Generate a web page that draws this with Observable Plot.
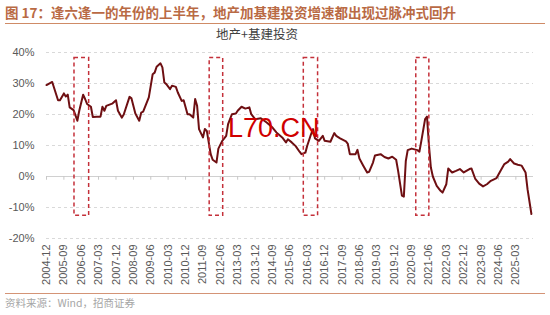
<!DOCTYPE html>
<html><head><meta charset="utf-8">
<script src="https://cdn.jsdelivr.net/npm/d3@7"></script>
<script src="https://cdn.jsdelivr.net/npm/@observablehq/plot@0.6"></script>
<style>
body{margin:0;background:#fff;}
#wrap{position:relative;width:550px;height:315px;overflow:hidden;background:#fff;font-family:"Liberation Sans",Arial,sans-serif;}
#title{position:absolute;left:5px;top:3px;font-family:"Noto Sans CJK SC";font-size:13.5px;font-weight:bold;color:#b96a44;white-space:nowrap;line-height:18px;}
#rule1{position:absolute;left:5px;top:23px;width:540px;border-top:1.5px solid #cf8b66;}
#sub{position:absolute;left:0;width:514px;text-align:center;top:26px;font-family:"Noto Sans CJK SC";font-size:12.5px;color:#404040;line-height:16px;}
#chart{position:absolute;left:0;top:36px;}
#rule2{position:absolute;left:5px;top:293px;width:540px;border-top:1px solid #d49476;}
#foot{position:absolute;left:5px;top:296px;font-family:"Noto Sans CJK SC";font-size:10.5px;color:#a6a6a6;line-height:14px;}
#wm{position:absolute;left:228px;top:114.5px;font-family:"Liberation Sans",Arial,sans-serif;font-size:27px;line-height:27px;color:#d00000;}
</style></head>
<body>
<div id="wrap">
  <div id="title">图 17：逢六逢一的年份的上半年，地产加基建投资增速都出现过脉冲式回升</div>
  <div id="rule1"></div>
  <div id="sub">地产+基建投资</div>
  <div id="chart"></div>
  <div id="rule2"></div>
  <div id="foot">资料来源：Wind，招商证券</div>
  <div id="wm">L70.CN</div>
</div>
<script>
// months after 2004-12
const months = [0,3,6,7,9,10,11,12,14,16,17,19,20,21,23,24,26,28,29,30,31,34,36,37,39,40,43,44,46,48,49,50,53,55,56,57,59,60,61,62,64,65,67,68,70,71,73,74,76,77,78,79,81,82,83,85,86,88,89,91,93,94,96,98,99,101,103,105,106,108,111,114,117,119,122,124,125,127,129,131,132,134,135,137,138,139,141,143,144,147,149,150,152,155,156,157,160,161,162,164,166,167,169,170,173,175,177,179,181,182,184,185,186,187,189,192,193,194,196,197,198,199,200,202,204,205,207,208,210,212,214,216,219,220,222,224,226,228,230,233,235,237,239,240,242,244,246,248,249,251];
// 地产+基建投资 累计同比 (%)
const values = [29.5,30.5,24.6,24.6,26.8,25.8,26.4,22.3,21.4,18,21.2,26.4,25,23.4,22.5,19.2,19.3,19.3,22.5,21.2,22.8,23.5,24.6,21.2,19,20,25.7,25.2,20.3,18,20.6,20.9,25.5,33,33.5,35.4,36.5,35.2,30.3,29.8,28.2,29.3,28.9,27.1,24.4,24.6,20.1,20.1,19,25,22.8,15.3,12.6,15.3,14.7,7.2,5.4,4.5,9,11.5,13.1,16.9,20.1,20.3,21.2,22.5,21.9,22.3,20.1,18.5,18.8,17.4,15.8,14.2,12.6,11,12,11,9.8,8,7.2,7.7,9.9,13.7,15.3,12.3,11.5,13.1,11.5,11.2,14,13.1,12.3,11.3,10.5,7.2,7.2,8.6,5.8,3.5,1.3,1.5,4.5,6.8,7.2,6.3,5.8,6.4,5.4,1.8,-6.2,-6.5,5,8.5,9,8.5,8,11.5,18.5,19.3,10,2.9,0,-3,-4.6,-5.2,-2.5,2.6,1.3,1.8,2.4,1.3,2.4,2.6,-0.8,-2.3,-3.2,-2.5,-1.4,-0.5,1.8,4,4.8,5.6,4.2,3.8,3.5,1.3,-4.1,-12.1];
const tickLabels = ["2004-12","2005-09","2006-06","2007-03","2007-12","2008-09","2009-06","2010-03","2010-12","2011-09","2012-06","2013-03","2013-12","2014-09","2015-06","2016-03","2016-12","2017-09","2018-06","2019-03","2019-12","2020-09","2021-06","2022-03","2022-12","2023-09","2024-06","2025-03"];
const yTicks = [-20,-10,0,10,20,30,40];
const boxFrom = ["2006-02-15","2011-12-16","2016-01-07","2020-11-13"];
const boxTo   = ["2006-10-04","2012-07-16","2016-08-19","2021-06-07"];
const boxLow = -12.7, boxHigh = 38.2;

const toDate = m => new Date(Date.UTC(2004, 11 + m, 1));
const parseYM = s => new Date(Date.UTC(+s.slice(0,4), +s.slice(5,7) - 1, 1));
const parseD = s => new Date(Date.UTC(+s.slice(0,4), +s.slice(5,7) - 1, +s.slice(8,10)));
const data = months.map((m, i) => ({date: toDate(m), v: values[i]}));
const tickDates = tickLabels.map(parseYM);
const boxes = boxFrom.map((s, i) => ({x1: parseD(s), x2: parseD(boxTo[i]), y1: boxLow, y2: boxHigh}));

const chart = Plot.plot({
  width: 550, height: 257,
  marginTop: 16, marginBottom: 55, marginLeft: 46, marginRight: 17,
  style: {fontFamily: "Liberation Sans, Arial, sans-serif", fontSize: "11px", color: "#595959", background: "transparent"},
  x: {type: "utc", domain: [toDate(0), new Date(Date.UTC(2025, 11, 4))], label: null},
  y: {domain: [-20, 40], label: null},
  marks: [
    Plot.ruleY(yTicks.filter(d => d !== 0), {stroke: "#d9d9d9", strokeDasharray: "3,3", strokeWidth: 1}),
    Plot.ruleY([0], {stroke: "#d0d0d0", strokeWidth: 1}),
    Plot.ruleX(tickDates, {y1: 0, y2: -1.2, stroke: "#c8c8c8"}),
    Plot.axisY({ticks: yTicks, tickFormat: d => d + "%", tickSize: 0, tickPadding: 12, fill: "#595959"}),
    Plot.axisX({ticks: tickDates, tickFormat: d3.utcFormat("%Y-%m"), tickRotate: -90, tickSize: 0, tickPadding: 6, fill: "#595959"}),
    Plot.line(data, {x: "date", y: "v", stroke: "#6e0f12", strokeWidth: 2, curve: "linear"}),
    Plot.rect(boxes, {x1: "x1", x2: "x2", y1: "y1", y2: "y2", fill: "none", stroke: "#c4303a", strokeWidth: 1.5, strokeDasharray: "4,3"})
  ]
});
document.getElementById("chart").appendChild(chart);
</script>
</body></html>
